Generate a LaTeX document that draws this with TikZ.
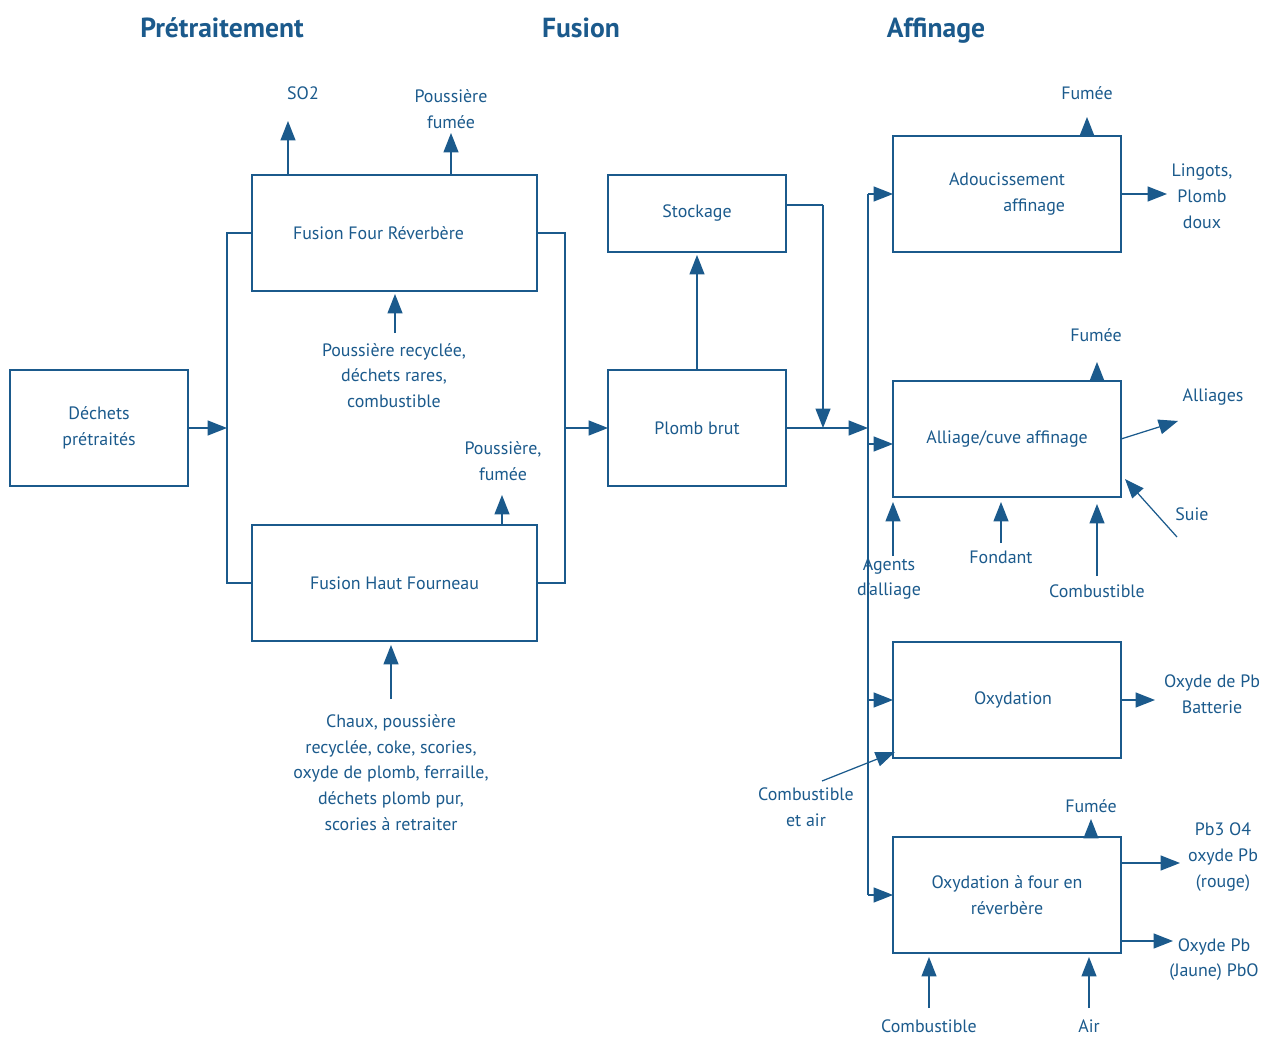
\documentclass[tikz,border=0pt]{standalone}
\usepackage{fontspec}
\setmainfont{PT Sans}
\usetikzlibrary{arrows.meta,calc}
\definecolor{bleu}{HTML}{1B5A8C}
\begin{document}
\begin{tikzpicture}[x=0.02cm,y=-0.02cm,
  every node/.style={text=bleu, inner sep=0pt, outer sep=0pt},
  txt/.style={font=\fontsize{10.2}{14.7}\selectfont, align=center},
  titre/.style={font=\fontsize{15.7}{18}\selectfont\bfseries, anchor=base},
  box/.style={draw=bleu, line width=0.7pt, font=\fontsize{10.2}{14.7}\selectfont, align=center},
  ln/.style={draw=bleu, line width=0.7pt},
  arr/.style={ln, -{Triangle[length=11pt,width=8.5pt]}}]
\useasboundingbox (0,0) rectangle (1261,1037);

% section titles
\node[titre] (t1) at (222,38) {Prétraitement};
\node[titre] (t2) at (581,38) {Fusion};
\node[titre] (t3) at (936,38) {Affinage};

% process boxes
\node[box, minimum width=3.56cm, minimum height=2.32cm] (dech) at (99,428) {Déchets\\prétraités};
\node[box, minimum width=5.7cm, minimum height=2.32cm] (ffr) at (394.5,233) {Fusion Four Réverbère\kern0.64cm};
\node[box, minimum width=5.7cm, minimum height=2.32cm] (fhf) at (394.5,583) {Fusion Haut Fourneau};
\node[box, minimum width=3.56cm, minimum height=1.54cm] (stock) at (697,213.5) {\raisebox{-0.04cm}{Stockage}};
\node[box, minimum width=3.56cm, minimum height=2.32cm] (plomb) at (697,428) {Plomb brut};
\node[box, minimum width=4.56cm, minimum height=2.32cm, align=right] (adou) at (1007,194) {Adoucissement\\affinage};
\node[box, minimum width=4.56cm, minimum height=2.32cm] (alli) at (1007,439) {Alliage/cuve affinage};
\node[box, minimum width=4.56cm, minimum height=2.32cm] (oxy) at (1007,700) {\kern0.24cm Oxydation};
\node[box, minimum width=4.56cm, minimum height=2.32cm] (oxyf) at (1007,895) {Oxydation à four en\\réverbère};

% labels of inputs and outputs
\node[txt] (so2) at (303,93) {SO2};
\node[txt] (pf1) at (451,109) {Poussière\\fumée};
\node[txt] (prec) at (394,375.5) {Poussière recyclée,\\déchets rares,\\combustible};
\node[txt] (pf2) at (503,461.5) {Poussière,\\fumée};
\node[txt] (chaux) at (391,772.5) {Chaux, poussière\\recyclée, coke, scories,\\oxyde de plomb, ferraille,\\déchets plomb pur,\\scories à retraiter};
\node[txt] (fu1) at (1087,93) {Fumée};
\node[txt] (ling) at (1202,196.5) {Lingots,\\Plomb\\doux};
\node[txt] (fu2) at (1096,335) {Fumée};
\node[txt] (allg) at (1213,397) {Alliages};
\node[txt] (suie) at (1192,514) {Suie};
\node[txt] (agen) at (889,578.5) {Agents\\d'alliage};
\node[txt] (fond) at (1001,557) {Fondant};
\node[txt] (comb1) at (1097,591) {Combustible};
\node[txt] (oxpb) at (1212,694.5) {Oxyde de Pb\\Batterie};
\node[txt] (cair) at (806,807.5) {Combustible\\et air};
\node[txt] (fu3) at (1091,806) {Fumée};
\node[txt] (pb3) at (1223,857) {Pb3 O4\\oxyde Pb\\(rouge)};
\node[txt] (jaune) at (1214,959.5) {Oxyde Pb\\(Jaune) PbO};
\node[txt] (comb2) at (929,1026) {Combustible};
\node[txt] (air) at (1089,1026) {Air};

% free ends of the connectors
\coordinate (so2t) at (288,121);
\coordinate (pf1t) at (451,133);
\coordinate (precb) at (395,333);
\coordinate (prect) at (395,294);
\coordinate (pf2t) at (502,495);
\coordinate (chauxb) at (391,699);
\coordinate (chauxt) at (391,645);
\coordinate (gL) at (227,428);
\coordinate (gR) at (565,428);
\coordinate (stk1) at (786,205);
\coordinate (stk2) at (823,205);
\coordinate (stk3) at (823,428);
\coordinate (trk) at (868,428);
\coordinate (trkT) at (868,194);
\coordinate (trkB) at (868,895);
\coordinate (fu1t) at (1087,117);
\coordinate (lingt) at (1167,194);
\coordinate (fu2t) at (1097,362);
\coordinate (allgs) at (1121,439);
\coordinate (allgt) at (1178,421);
\coordinate (suies) at (1177,537);
\coordinate (suiet) at (1125,479);
\coordinate (agenb) at (893,556);
\coordinate (agent) at (893,502);
\coordinate (fondb) at (1001,543);
\coordinate (fondt) at (1001,502);
\coordinate (comb1b) at (1097,576);
\coordinate (comb1t) at (1097,504);
\coordinate (oxpbt) at (1155,700);
\coordinate (cairs) at (822,781);
\coordinate (cairt) at (895,752);
\coordinate (fu3t) at (1091,819);
\coordinate (pb3s) at (1121,863);
\coordinate (pb3t) at (1180,863);
\coordinate (jaunes) at (1121,941);
\coordinate (jaunet) at (1173,941);
\coordinate (comb2b) at (929,1008);
\coordinate (comb2t) at (929,957);
\coordinate (airb) at (1089,1008);
\coordinate (airt) at (1089,957);

% pretreatment and smelting
\draw[arr] (dech.east) -- (gL);
\draw[ln] (ffr.west) -| (fhf.west -| gL) -- (fhf.west);
\draw[ln] (ffr.east) -| (fhf.east -| gR) -- (fhf.east);
\draw[arr] (gR) -- (plomb.west);
\draw[arr] (ffr.north -| so2t) -- (so2t);
\draw[arr] (ffr.north -| pf1t) -- (pf1t);
\draw[arr] (precb) -- (prect);
\draw[arr] (fhf.north -| pf2t) -- (pf2t);
\draw[arr] (chauxb) -- (chauxt);

% crude lead and storage
\draw[arr] (plomb.north) -- ([yshift=-0.06cm]stock.south);
\draw[ln] (stk1) -- (stk2);
\draw[arr] (stk2) -- (stk3);
\draw[arr] (plomb.east) -- (trk);

% refining distribution
\draw[ln] (trkT) -- (trkB);
\draw[arr] (trkT) -- (adou.west |- trkT);
\draw[arr] (868,444) -- (adou.west |- 0,444);
\draw[arr] (868,700) -- (oxy.west);
\draw[arr] (trkB) -- (oxyf.west);

% refining inputs and outputs
\draw[arr] (adou.north -| fu1t) -- (fu1t);
\draw[arr] (adou.east |- lingt) -- (lingt);
\draw[arr] (alli.north -| fu2t) -- (fu2t);
\draw[arr] (allgs) -- (allgt);
\draw[arr] (suies) -- (suiet);
\draw[arr] (agenb) -- (agent);
\draw[arr] (fondb) -- (fondt);
\draw[arr] (comb1b) -- (comb1t);
\draw[arr] (oxy.east) -- (oxpbt);
\draw[arr] (cairs) -- (cairt);
\draw[arr] (oxyf.north -| fu3t) -- (fu3t);
\draw[arr] (pb3s) -- (pb3t);
\draw[arr] (jaunes) -- (jaunet);
\draw[arr] (comb2b) -- (comb2t);
\draw[arr] (airb) -- (airt);
\end{tikzpicture}
\end{document}
